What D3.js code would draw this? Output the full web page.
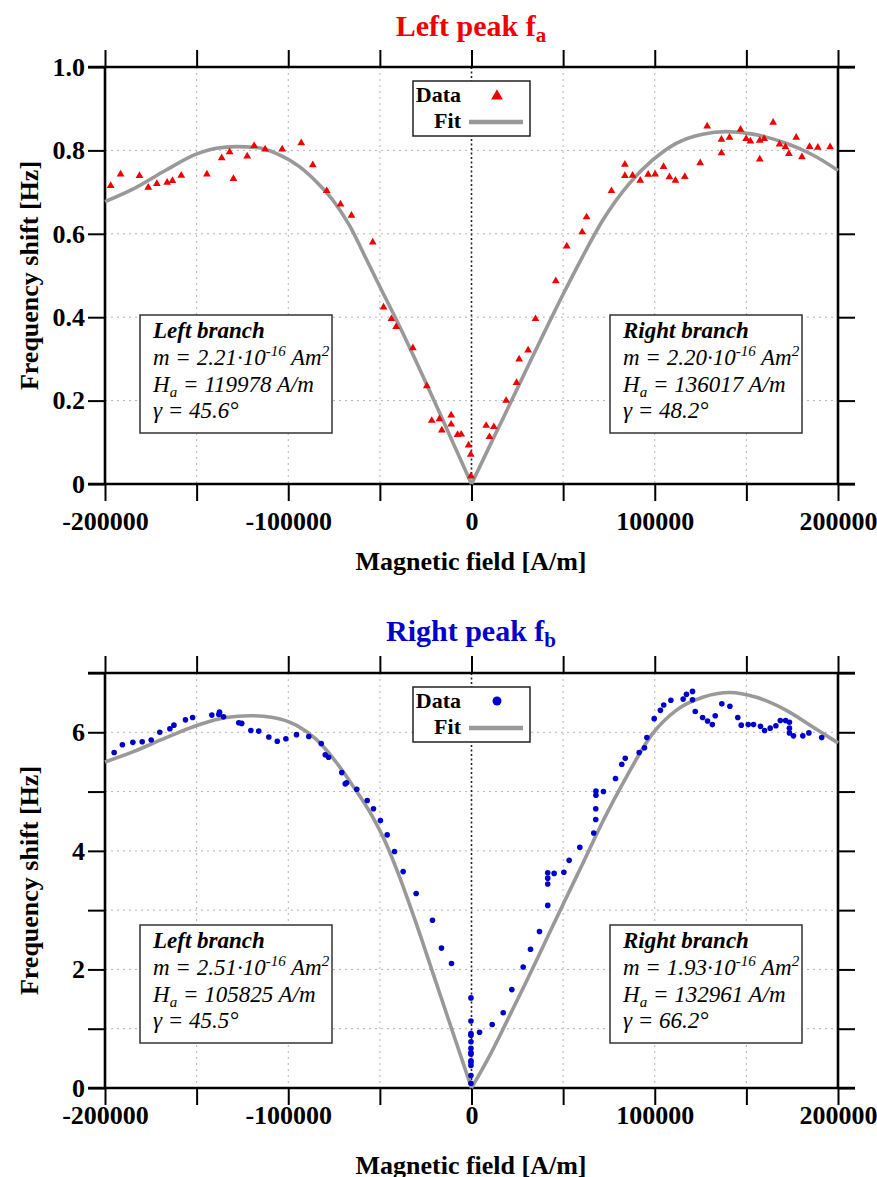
<!DOCTYPE html>
<html>
<head>
<meta charset="utf-8">
<script src="https://cdn.jsdelivr.net/npm/d3@7"></script>
<style>
  body { margin: 0; background: #fff; }
  svg text { font-family: 'Liberation Serif', 'Times New Roman', serif; }
</style>
</head>
<body>
<svg id="chart" width="877" height="1177"></svg>
<script>
// ================= data =================
var xTickValues = [-200000, -150000, -100000, -50000, 0, 50000, 100000, 150000, 200000]
var xTickLabels = [-200000, -100000, 0, 100000, 200000]

// top panel: left peak f_a  [field A/m, shift Hz]
var leftPeakData = [
  [-196900, 0.715], [-191500, 0.743], [-181200, 0.739], [-176400, 0.711], [-171700, 0.720],
  [-166100, 0.723], [-163200, 0.727], [-158400, 0.740], [-144400, 0.743], [-136300, 0.782],
  [-132000, 0.796], [-129900, 0.732], [-122400, 0.786], [-118600, 0.811], [-112600, 0.803],
  [-103300, 0.803], [-92900, 0.818], [-86600, 0.765], [-79000, 0.703], [-71500, 0.671],
  [-65500, 0.644], [-53900, 0.580], [-48000, 0.424], [-43700, 0.396], [-41100, 0.377],
  [-32000, 0.326], [-24400, 0.235], [-21700, 0.152], [-17500, 0.156], [-16200, 0.129],
  [-11100, 0.165], [-11100, 0.143], [-7600, 0.118], [-5600, 0.119], [-1600, 0.093],
  [-400, 0.071], [-300, 0.019], [8000, 0.140], [9800, 0.113], [12200, 0.137],
  [18900, 0.200], [24600, 0.243], [26000, 0.299], [30900, 0.321], [34900, 0.396],
  [46000, 0.487], [52000, 0.570], [60400, 0.604], [62800, 0.640], [76400, 0.703],
  [83700, 0.766], [83700, 0.739], [87900, 0.740], [92100, 0.728], [96400, 0.742],
  [100200, 0.743], [104800, 0.761], [108000, 0.736], [111300, 0.728], [116400, 0.737],
  [124800, 0.770], [128600, 0.858], [136400, 0.826], [136400, 0.794], [140800, 0.831],
  [146800, 0.850], [149900, 0.828], [152200, 0.822], [157300, 0.779], [157300, 0.824],
  [159700, 0.828], [164600, 0.867], [168100, 0.815], [171300, 0.808], [173200, 0.792],
  [177200, 0.831], [180300, 0.784], [184500, 0.809], [189000, 0.807], [195700, 0.808]
]
var leftPeakFitL = [
  [-200000, 0.677], [-184800, 0.707], [-166600, 0.753], [-150200, 0.791], [-139300, 0.805],
  [-128400, 0.809], [-117500, 0.807], [-106600, 0.793], [-93900, 0.761], [-84700, 0.725],
  [-75700, 0.681], [-66600, 0.620], [-57500, 0.540], [-50000, 0.473], [-40000, 0.385],
  [-30000, 0.292], [-20000, 0.196], [-10000, 0.098], [0, 0]
]
var leftPeakFitR = [
  [0, 0], [10000, 0.092], [20000, 0.183], [30000, 0.275], [40000, 0.366], [50000, 0.455],
  [60000, 0.540], [71700, 0.633], [86200, 0.721], [98900, 0.777], [111700, 0.817],
  [126200, 0.839], [139000, 0.845], [153500, 0.839], [171700, 0.817], [186300, 0.789],
  [200000, 0.752]
]

// bottom panel: right peak f_b
var rightPeakData = [
  [-195000, 5.66], [-190500, 5.79], [-184800, 5.83], [-179700, 5.84], [-174800, 5.87],
  [-170100, 6.00], [-164600, 6.06], [-162400, 6.12], [-156100, 6.21], [-152200, 6.25],
  [-141700, 6.29], [-137900, 6.30], [-137500, 6.34], [-135300, 6.26], [-127000, 6.16],
  [-125400, 6.15], [-120400, 6.03], [-116100, 6.02], [-110600, 5.92], [-106000, 5.85],
  [-101300, 5.89], [-95500, 5.96], [-88800, 5.93], [-82000, 5.81], [-79800, 5.62],
  [-78000, 5.58], [-70800, 5.32], [-68900, 5.13], [-68200, 5.15], [-62600, 5.04],
  [-56900, 4.85], [-53500, 4.71], [-49700, 4.51], [-46000, 4.27], [-42000, 3.99],
  [-37300, 3.65], [-30200, 3.28], [-21300, 2.83], [-16400, 2.36], [-10900, 2.10],
  [-300, 1.52], [-300, 1.13], [-300, 0.92], [-300, 0.89], [-300, 0.78], [-300, 0.67],
  [-300, 0.60], [-300, 0.57], [-300, 0.46], [-300, 0.43], [-300, 0.38], [-300, 0.21],
  [-300, 0.08], [4400, 0.94], [11300, 1.07], [17300, 1.27], [22000, 1.66], [28200, 2.04],
  [32200, 2.34], [37100, 2.64], [41600, 3.08], [41600, 3.44], [41600, 3.54], [41600, 3.63],
  [45100, 3.62], [50400, 3.64], [53300, 3.84], [59100, 4.06], [66700, 4.30], [67800, 4.53],
  [67800, 4.71], [67900, 4.94], [67900, 5.01], [72000, 5.00], [78600, 5.22], [82000, 5.46],
  [83900, 5.56], [91500, 5.66], [94400, 5.74], [95700, 5.91], [99700, 6.23], [103100, 6.37],
  [104900, 6.46], [108800, 6.54], [115500, 6.56], [117300, 6.64], [120600, 6.69], [120600, 6.55],
  [122100, 6.35], [126100, 6.25], [128800, 6.19], [131400, 6.13], [133000, 6.28], [136600, 6.48],
  [141000, 6.44], [145300, 6.25], [147200, 6.12], [151000, 6.13], [153900, 6.13], [157700, 6.10],
  [159900, 6.03], [163000, 6.07], [166100, 6.11], [168500, 6.20], [171400, 6.20], [173500, 6.17],
  [173500, 6.07], [173500, 5.99], [175700, 5.94], [180800, 5.94], [184100, 5.99], [191100, 5.91]
]
var rightPeakFitL = [
  [-200000, 5.50], [-184800, 5.67], [-166600, 5.91], [-148400, 6.13], [-133900, 6.25],
  [-121100, 6.28], [-108400, 6.25], [-95700, 6.12], [-84700, 5.88], [-75700, 5.57],
  [-64800, 5.10], [-53900, 4.57], [-47000, 4.15], [-40000, 3.62], [-30000, 2.76],
  [-20000, 1.84], [-10000, 0.92], [0, 0]
]
var rightPeakFitR = [
  [0, 0], [10000, 0.55], [20000, 1.17], [30000, 1.80], [40000, 2.45], [50000, 3.10],
  [60000, 3.74], [71700, 4.50], [84400, 5.24], [98900, 5.98], [111700, 6.37], [126200, 6.59],
  [140800, 6.67], [155400, 6.59], [171800, 6.37], [186300, 6.09], [200000, 5.82]
]

// fit results shown in the boxes
var leftPeakParams = [
  { name: 'Left branch', m: '2.21', ha: '119978', gamma: '45.6' },
  { name: 'Right branch', m: '2.20', ha: '136017', gamma: '48.2' }
]
var rightPeakParams = [
  { name: 'Left branch', m: '2.51', ha: '105825', gamma: '45.5' },
  { name: 'Right branch', m: '1.93', ha: '132961', gamma: '66.2' }
]

// ================= drawing =================
var svg = d3.select('#chart')
var plotLeft = 105
var plotRight = 838
var tickLen = 17

var panels = [
  {
    title: 'Left peak f', sub: 'a', color: '#f00000', titleY: 36,
    top: 67, bottom: 484, yMax: 1.0,
    yTicks: [0, 0.2, 0.4, 0.6, 0.8, 1.0], yLabels: [0, 0.2, 0.4, 0.6, 0.8, 1.0],
    yGrid: [0.2, 0.4, 0.6, 0.8],
    fmt: function (d) { return d === 0 ? '0' : d.toFixed(1) },
    xPad: 11, xTitleY: 570,
    data: leftPeakData, fitL: leftPeakFitL, fitR: leftPeakFitR,
    marker: 'tri', params: leftPeakParams, boxTop: 315
  },
  {
    title: 'Right peak f', sub: 'b', color: '#0000cc', titleY: 641,
    top: 673, bottom: 1088, yMax: 7,
    yTicks: [0, 1, 2, 3, 4, 5, 6, 7], yLabels: [0, 2, 4, 6],
    yGrid: [1, 2, 3, 4, 5, 6],
    fmt: function (d) { return String(d) },
    xPad: 1, xTitleY: 1174,
    data: rightPeakData, fitL: rightPeakFitL, fitR: rightPeakFitR,
    marker: 'dot', params: rightPeakParams, boxTop: 925
  }
]

panels.forEach(drawPanel)

function drawPanel (p) {
  var g = svg.append('g')
  var x = d3.scaleLinear().domain([-200000, 200000]).range([plotLeft, plotRight])
  var y = d3.scaleLinear().domain([0, p.yMax]).range([p.bottom, p.top])

  // title with subscript
  var t = g.append('text')
    .attr('x', 471).attr('y', p.titleY)
    .attr('text-anchor', 'middle')
    .attr('fill', p.color)
    .style('font-size', '30px').style('font-weight', 'bold')
  t.append('tspan').text(p.title)
  t.append('tspan').attr('dy', 6).style('font-size', '21px').text(p.sub)

  // dotted grid
  g.selectAll('.gx').data(xTickValues.filter(function (d) { return d !== 0 && Math.abs(d) !== 200000 }))
    .enter().append('line')
    .attr('x1', function (d) { return x(d) }).attr('x2', function (d) { return x(d) })
    .attr('y1', p.top).attr('y2', p.bottom)
    .attr('stroke', '#b4b4b4').attr('stroke-width', 1).attr('stroke-dasharray', '2,4')
  g.selectAll('.gy').data(p.yGrid)
    .enter().append('line')
    .attr('x1', plotLeft).attr('x2', plotRight)
    .attr('y1', function (d) { return y(d) }).attr('y2', function (d) { return y(d) })
    .attr('stroke', '#b4b4b4').attr('stroke-width', 1).attr('stroke-dasharray', '2,4')
  // zero line
  g.append('line')
    .attr('x1', x(0)).attr('x2', x(0)).attr('y1', p.top).attr('y2', p.bottom)
    .attr('stroke', '#222').attr('stroke-width', 1.6).attr('stroke-dasharray', '2,2.5')

  // axes, ticks pointing outward on all four sides
  var axB = g.append('g').attr('transform', 'translate(0,' + p.bottom + ')')
    .call(d3.axisBottom(x).tickValues(xTickValues).tickSize(tickLen).tickPadding(p.xPad)
      .tickFormat(function (d) { return xTickLabels.indexOf(d) >= 0 ? d : '' }))
  var axT = g.append('g').attr('transform', 'translate(0,' + p.top + ')')
    .call(d3.axisTop(x).tickValues(xTickValues).tickSize(tickLen).tickFormat(''))
  var axL = g.append('g').attr('transform', 'translate(' + plotLeft + ',0)')
    .call(d3.axisLeft(y).tickValues(p.yTicks).tickSize(tickLen).tickPadding(3)
      .tickFormat(function (d) { return p.yLabels.indexOf(d) >= 0 ? p.fmt(d) : '' }))
  var axR = g.append('g').attr('transform', 'translate(' + plotRight + ',0)')
    .call(d3.axisRight(y).tickValues(p.yTicks).tickSize(tickLen).tickFormat(''))
  ;[axB, axT, axL, axR].forEach(function (a) {
    a.select('.domain').remove()
    a.selectAll('.tick line').attr('stroke', '#000').attr('stroke-width', 2)
    a.selectAll('.tick text')
      .attr('fill', '#000')
      .style('font-family', "'Liberation Serif', 'Times New Roman', serif")
      .style('font-size', '26px').style('font-weight', 'bold')
  })

  // frame lines (horizontal ones run out past the corners)
  g.append('line').attr('x1', plotLeft - tickLen).attr('x2', plotRight + tickLen)
    .attr('y1', p.bottom).attr('y2', p.bottom).attr('stroke', '#000').attr('stroke-width', 2.6)
  g.append('line').attr('x1', plotLeft - tickLen).attr('x2', plotRight + tickLen)
    .attr('y1', p.top).attr('y2', p.top).attr('stroke', '#000').attr('stroke-width', 2.6)
  g.append('line').attr('x1', plotLeft).attr('x2', plotLeft)
    .attr('y1', p.top).attr('y2', p.bottom).attr('stroke', '#000').attr('stroke-width', 2.6)
  g.append('line').attr('x1', plotRight).attr('x2', plotRight)
    .attr('y1', p.top).attr('y2', p.bottom).attr('stroke', '#000').attr('stroke-width', 2.6)

  // axis titles
  g.append('text')
    .attr('x', 471).attr('y', p.xTitleY).attr('text-anchor', 'middle')
    .style('font-size', '26px').style('font-weight', 'bold')
    .text('Magnetic field [A/m]')
  g.append('text')
    .attr('transform', 'translate(38,' + ((p.top + p.bottom) / 2) + ') rotate(-90)')
    .attr('text-anchor', 'middle')
    .style('font-size', '26px').style('font-weight', 'bold')
    .text('Frequency shift [Hz]')

  // fit curves, one per branch so the cusp at 0 stays sharp
  var line = d3.line()
    .x(function (d) { return x(d[0]) })
    .y(function (d) { return y(d[1]) })
    .curve(d3.curveMonotoneX)
  ;[p.fitL, p.fitR].forEach(function (branch) {
    g.append('path').datum(branch)
      .attr('d', line)
      .attr('fill', 'none').attr('stroke', '#999').attr('stroke-width', 3.6)
  })

  // data markers
  var tri = d3.symbol().type(d3.symbolTriangle)
  if (p.marker === 'tri') {
    g.selectAll('.pt').data(p.data).enter().append('path')
      .attr('transform', function (d) { return 'translate(' + x(d[0]) + ',' + y(d[1]) + ')' })
      .attr('d', tri.size(26)())
      .attr('fill', p.color)
  } else {
    g.selectAll('.pt').data(p.data).enter().append('circle')
      .attr('cx', function (d) { return x(d[0]) })
      .attr('cy', function (d) { return y(d[1]) })
      .attr('r', 2.8)
      .attr('fill', p.color)
  }

  // legend
  var lg = g.append('g').attr('transform', 'translate(413,' + (p.top + 14) + ')')
  lg.append('rect').attr('width', 117).attr('height', 55)
    .attr('fill', '#fff').attr('stroke', '#222').attr('stroke-width', 1.5)
  lg.append('text').attr('x', 48).attr('y', 21).attr('text-anchor', 'end')
    .style('font-size', '22px').style('font-weight', 'bold').text('Data')
  lg.append('text').attr('x', 48).attr('y', 47).attr('text-anchor', 'end')
    .style('font-size', '22px').style('font-weight', 'bold').text('Fit')
  if (p.marker === 'tri') {
    lg.append('path').attr('transform', 'translate(84,15)')
      .attr('d', tri.size(60)()).attr('fill', p.color)
  } else {
    lg.append('circle').attr('cx', 84).attr('cy', 14).attr('r', 4.5).attr('fill', p.color)
  }
  lg.append('line').attr('x1', 56).attr('x2', 110).attr('y1', 41).attr('y2', 41)
    .attr('stroke', '#999').attr('stroke-width', 4.5)

  // parameter boxes
  var boxX = [140, 610]
  p.params.forEach(function (par, i) {
    var b = g.append('g').attr('transform', 'translate(' + boxX[i] + ',' + p.boxTop + ')')
    b.append('rect').attr('width', 192).attr('height', 118)
      .attr('fill', '#fff').attr('stroke', '#333').attr('stroke-width', 1.5)
    var tx = 13
    b.append('text').attr('x', tx).attr('y', 23)
      .style('font-size', '23px').style('font-style', 'italic').style('font-weight', 'bold')
      .text(par.name)
    var m = b.append('text').attr('x', tx).attr('y', 50)
      .style('font-size', '23px').style('font-style', 'italic')
    m.append('tspan').text('m = ' + par.m + '·10')
    m.append('tspan').attr('dy', -9).style('font-size', '15px').text('-16')
    m.append('tspan').attr('dy', 9).text(' Am')
    m.append('tspan').attr('dy', -9).style('font-size', '15px').text('2')
    var h = b.append('text').attr('x', tx).attr('y', 77)
      .style('font-size', '23px').style('font-style', 'italic')
    h.append('tspan').text('H')
    h.append('tspan').attr('dy', 5).style('font-size', '15px').text('a')
    h.append('tspan').attr('dy', -5).text(' = ' + par.ha + ' A/m')
    b.append('text').attr('x', tx).attr('y', 103)
      .style('font-size', '23px').style('font-style', 'italic')
      .text('γ = ' + par.gamma + '°')
  })
}
</script>
</body>
</html>
